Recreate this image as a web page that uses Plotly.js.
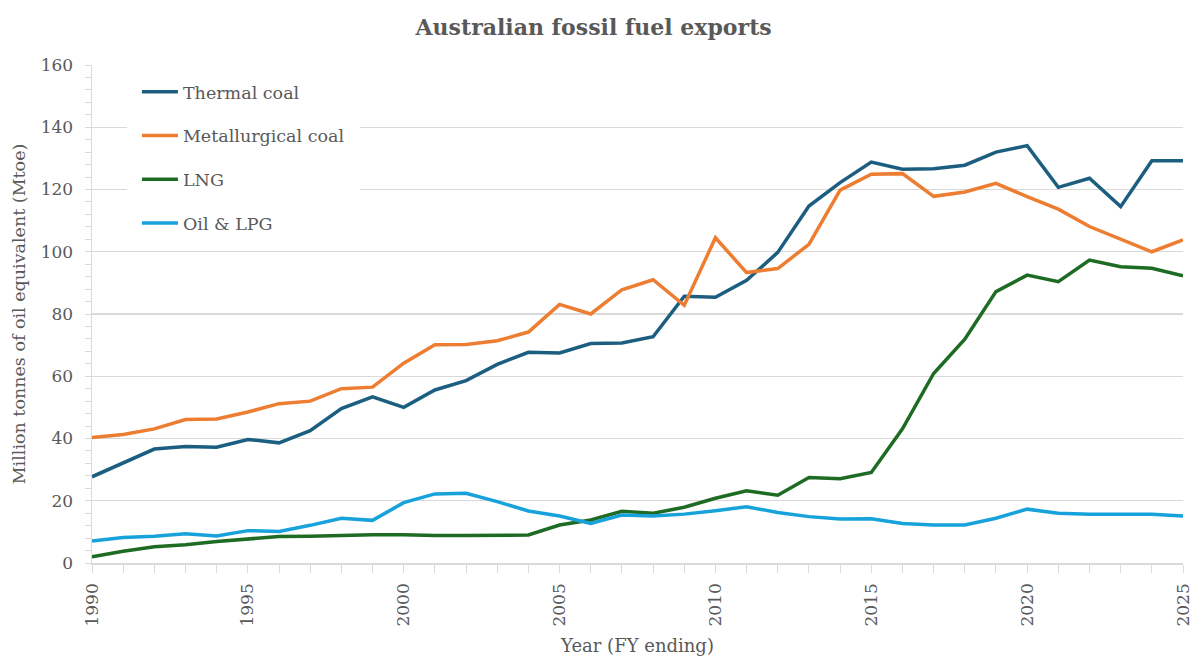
<!DOCTYPE html>
<html>
<head>
<meta charset="utf-8">
<script src="https://cdn.plot.ly/plotly-3.0.1.min.js"></script>
<style>html,body{margin:0;padding:0;background:#fff;}#chart{width:1192px;height:657px;}</style>
</head>
<body>
<div id="chart"></div>
<script>
const years = [];
for (let y = 1990; y <= 2025; y++) years.push(y);

const thermalCoal = [27.7, 32.2, 36.6, 37.4, 37.2, 39.7, 38.6, 42.5, 49.6, 53.4,
  50.0, 55.6, 58.6, 63.8, 67.7, 67.5, 70.5, 70.7, 72.7, 85.7,
  85.4, 90.8, 99.8, 114.7, 122.2, 128.8, 126.5, 126.7, 127.8, 132.0,
  134.1, 120.7, 123.6, 114.5, 129.2, 129.2];
const metCoal = [40.3, 41.3, 43.1, 46.1, 46.3, 48.5, 51.2, 52.0, 56.0, 56.5,
  64.2, 70.1, 70.2, 71.4, 74.2, 83.1, 80.0, 87.8, 91.0, 82.8,
  104.5, 93.3, 94.6, 102.4, 119.8, 124.9, 125.1, 117.8, 119.2, 122.0,
  117.7, 113.7, 108.1, 104.1, 100.0, 103.8];
const lng = [2.0, 3.8, 5.2, 5.9, 6.9, 7.8, 8.5, 8.6, 8.9, 9.1,
  9.1, 8.8, 8.8, 8.9, 9.0, 12.2, 13.8, 16.6, 16.0, 17.9,
  20.8, 23.2, 21.8, 27.5, 27.1, 29.1, 43.1, 60.9, 71.9, 87.2,
  92.5, 90.4, 97.3, 95.2, 94.7, 92.3];
const oilLpg = [7.1, 8.2, 8.6, 9.4, 8.7, 10.4, 10.1, 12.1, 14.4, 13.7,
  19.4, 22.2, 22.4, 19.7, 16.7, 15.1, 12.7, 15.4, 15.1, 15.7,
  16.8, 18.1, 16.2, 14.9, 14.1, 14.2, 12.7, 12.2, 12.2, 14.4,
  17.3, 16.0, 15.7, 15.7, 15.7, 15.1];

const seriesNames = ["Thermal coal", "Metallurgical coal", "LNG", "Oil & LPG"];
const seriesValues = [thermalCoal, metCoal, lng, oilLpg];
const colors = ["#1b5e80", "#ed7d31", "#1e6b24", "#17a2dc"];

const FONT = "DejaVu Serif, Liberation Serif, serif";
const TXT = "#595959";
const GRID = "#d9d9d9";

const traces = seriesNames.map((n, i) => ({
  x: years, y: seriesValues[i], name: n, type: "scatter", mode: "lines",
  legendgroup: "g" + i,
  line: {color: colors[i], width: 3.5}
}));

const layout = {
  width: 1192, height: 657,
  margin: {l: 92, r: 9, t: 65, b: 94},
  paper_bgcolor: "#fff", plot_bgcolor: "#fff",
  font: {family: FONT, color: TXT, size: 17},
  title: {text: "<b>Australian fossil fuel exports</b>", x: 0.498, xanchor: "center", y: 0.958, yanchor: "middle",
    font: {family: FONT, size: 22, color: TXT}},
  xaxis: {
    range: [1990, 2025], dtick: 5, tick0: 1990, tickangle: -90,
    ticks: "outside", ticklen: 8, tickcolor: GRID, tickwidth: 1,
    minor: {dtick: 1, ticks: "outside", ticklen: 8, tickcolor: GRID, showgrid: false},
    showgrid: false, showline: true, linecolor: GRID, linewidth: 1.5,
    zeroline: false, tickfont: {size: 17, color: TXT}, ticklabelstandoff: 4,
    ticklabeloverflow: "allow",
    title: {text: "Year (FY ending)", font: {size: 18, color: TXT}, standoff: 14}
  },
  yaxis: {
    range: [0, 160], dtick: 20,
    ticks: "outside", ticklen: 6, tickcolor: GRID,
    minor: {dtick: 4, ticks: "outside", ticklen: 6, tickcolor: GRID, showgrid: false},
    showgrid: true, gridcolor: GRID, gridwidth: 1.2,
    showline: true, linecolor: GRID, linewidth: 1.5,
    zeroline: false, tickfont: {size: 17, color: TXT}, ticklabelstandoff: 8,
    title: {text: "Million tonnes of oil equivalent (Mtoe)", font: {size: 17.5, color: TXT}, standoff: 10}
  },
  shapes: [{
    type: "rect", xref: "paper", yref: "paper", layer: "above",
    x0: 0.032, x1: 0.2456, y0: 0.6386, y1: 0.997,
    fillcolor: "#ffffff", line: {width: 0}
  }],
  legend: {
    x: 0.0412, y: 0.982, xanchor: "left", yanchor: "top",
    bgcolor: "rgba(255,255,255,0)", borderwidth: 0,
    font: {family: FONT, size: 17.5, color: TXT},
    tracegroupgap: 18, itemwidth: 36
  },
  showlegend: true
};

Plotly.newPlot("chart", traces, layout, {displayModeBar: false, staticPlot: true});
</script>
</body>
</html>
